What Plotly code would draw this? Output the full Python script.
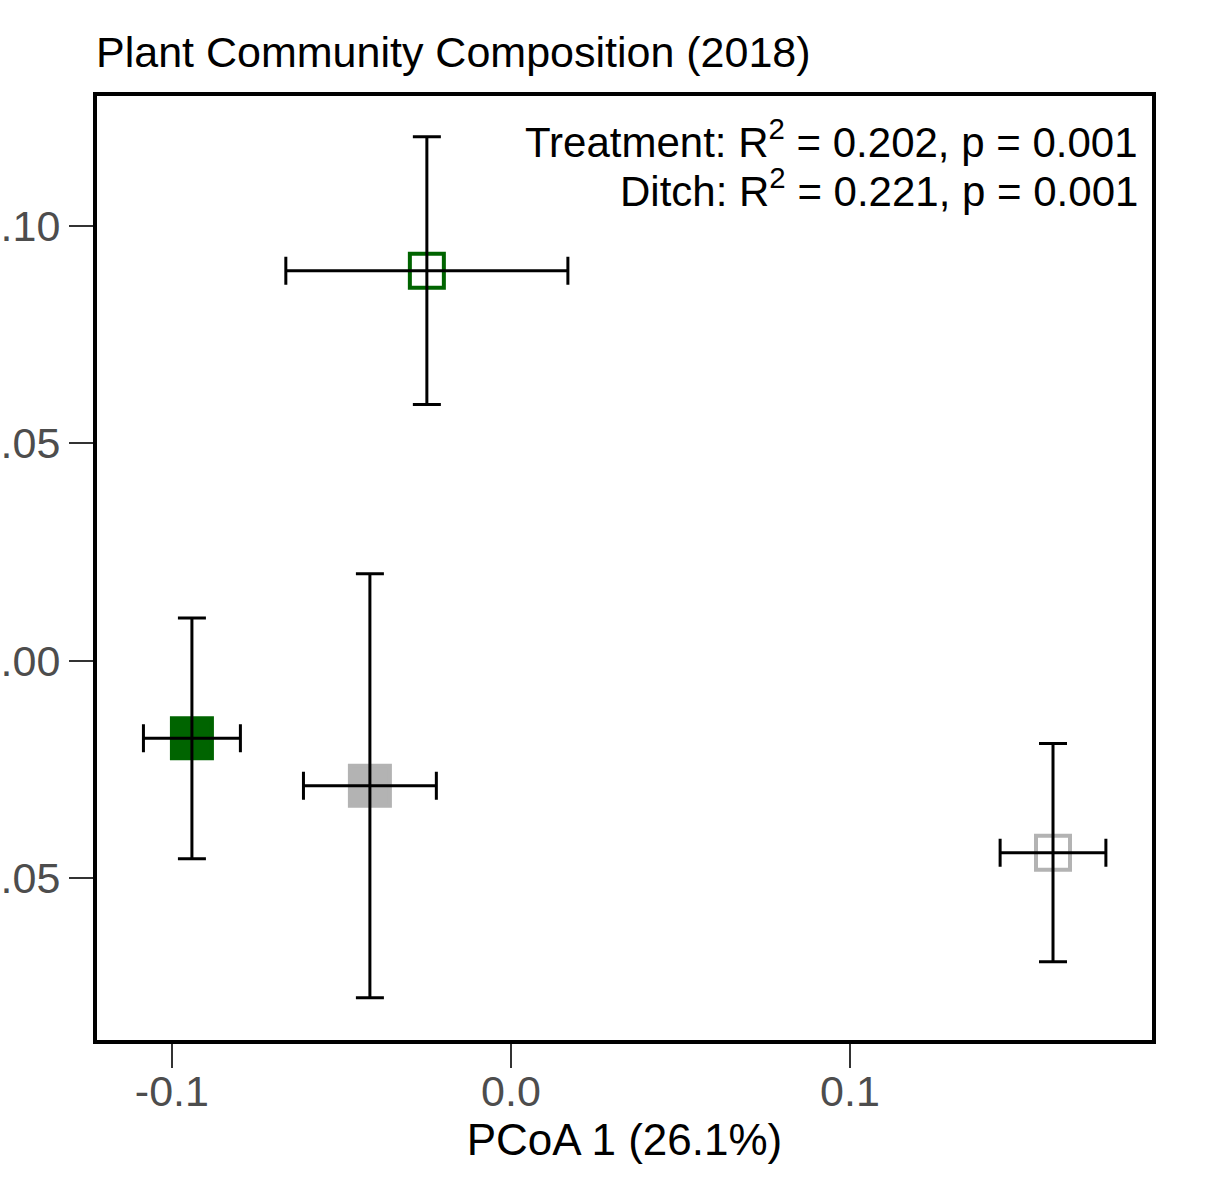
import plotly.graph_objects as go

# Data
groups = ["Treatment A / Ditch", "Treatment A / No ditch", "Treatment B / Ditch", "Treatment B / No ditch"]
pcoa1 = [-0.0248, -0.0941, -0.0416, 0.1599]
pcoa2 = [0.0897, -0.0179, -0.0288, -0.0442]
se1 = [0.0416, 0.0143, 0.0196, 0.0156]
se2 = [0.0308, 0.0277, 0.0488, 0.0251]
colors = ["#006400", "#006400", "#b3b3b3", "#b3b3b3"]
symbols = ["square-open", "square", "square", "square-open"]
sizes = [34, 40, 40, 34]

x_ticks = [-0.1, 0.0, 0.1]
x_ticklabels = ["-0.1", "0.0", "0.1"]
y_ticks = [-0.05, 0.0, 0.05, 0.10]
y_ticklabels = ["-0.05", "0.00", "0.05", "0.10"]

title_text = "Plant Community Composition (2018)"
x_title = "PCoA 1 (26.1%)"
stats_lines = ["Treatment: R<sup>2</sup> = 0.202, p = 0.001",
               "Ditch: R<sup>2</sup> = 0.221, p = 0.001"]

FONT = "Liberation Sans, Arial, Helvetica, sans-serif"

fig = go.Figure()

# markers
fig.add_trace(go.Scatter(
    x=pcoa1, y=pcoa2, mode="markers",
    marker=dict(symbol=symbols, color=colors, size=sizes, opacity=1,
                line=dict(color=colors, width=4)),
    showlegend=False, hoverinfo="skip",
))
# error bars drawn on top of the markers
fig.add_trace(go.Scatter(
    x=pcoa1, y=pcoa2, mode="markers",
    marker=dict(size=1, opacity=0),
    error_x=dict(type="data", array=se1, color="black", thickness=3, width=14),
    error_y=dict(type="data", array=se2, color="black", thickness=3, width=14),
    showlegend=False, hoverinfo="skip",
))

fig.update_layout(
    width=1209, height=1185,
    margin=dict(l=97, r=57, t=96, b=145, autoexpand=False),
    paper_bgcolor="white", plot_bgcolor="white",
    font=dict(family=FONT, size=43, color="black"),
    showlegend=False,
)

fig.update_xaxes(
    range=[-0.1221, 0.1891], tickvals=x_ticks, ticktext=x_ticklabels,
    showgrid=False, zeroline=False,
    showline=True, linecolor="black", linewidth=4, mirror=True,
    ticks="outside", ticklen=24, tickwidth=2, tickcolor="#333333",
    tickfont=dict(size=43, color="#4d4d4d", family=FONT),
    ticklabelstandoff=-14,
    title=dict(text=x_title, font=dict(size=44, color="black", family=FONT), standoff=4),
    automargin=False,
)
fig.update_yaxes(
    range=[-0.0873, 0.1299], tickvals=y_ticks, ticktext=y_ticklabels,
    showgrid=False, zeroline=False,
    showline=True, linecolor="black", linewidth=4, mirror=True,
    ticks="outside", ticklen=24, tickwidth=2, tickcolor="#333333",
    tickfont=dict(size=43, color="#4d4d4d", family=FONT),
    automargin=False,
)

fig.add_annotation(
    text=title_text, xref="paper", yref="paper", x=0, y=1.0466,
    xanchor="left", yanchor="middle", showarrow=False, xshift=-3,
    font=dict(size=43, color="black", family=FONT),
)
for i, line in enumerate(stats_lines):
    fig.add_annotation(
        text=line, xref="paper", yref="paper", x=1, y=1,
        xanchor="right", yanchor="middle", align="right", showarrow=False,
        xshift=-12, yshift=-(141 - 96) - 49 * i + 2,
        font=dict(size=42, color="black", family=FONT),
    )

fig.write_html("out.html")
